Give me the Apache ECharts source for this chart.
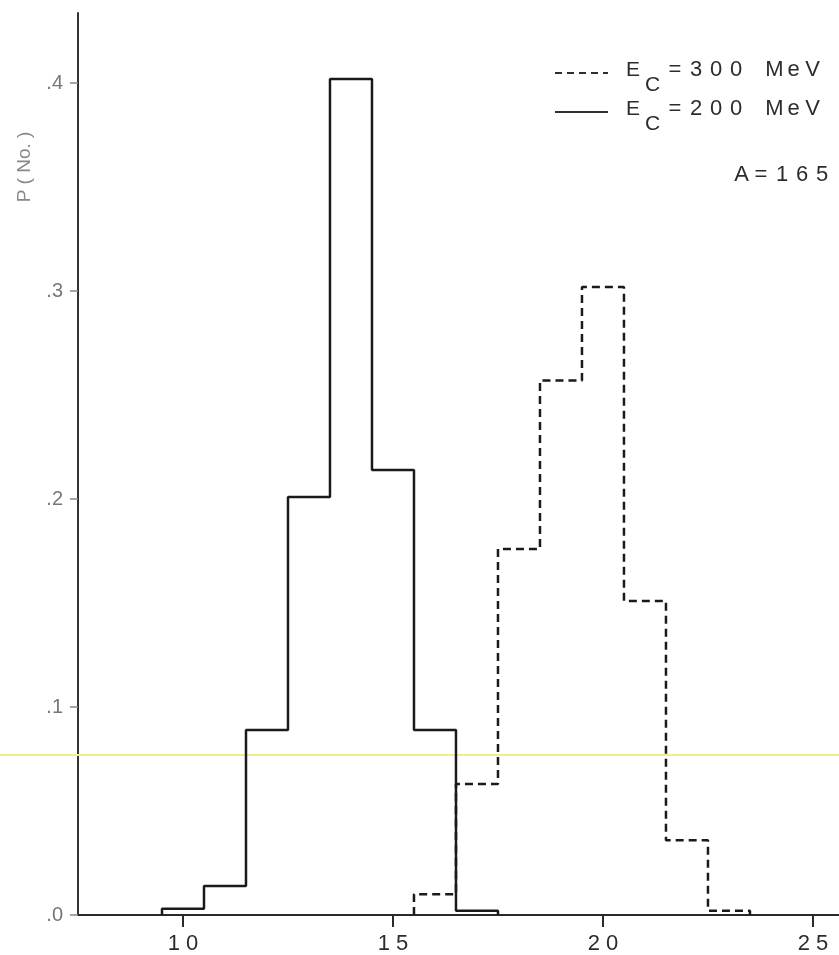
<!DOCTYPE html>
<html>
<head>
<meta charset="utf-8">
<script src="https://cdn.jsdelivr.net/npm/echarts@6/dist/echarts.min.js"></script>
<style>
  html, body { margin: 0; padding: 0; background: #fff; }
  #chart { width: 839px; height: 955px; }
</style>
</head>
<body>
<div id="chart"></div>
<script>
// Histogram bins: left edges and probabilities for each cutoff energy
const binEdges200 = [9.5, 10.5, 11.5, 12.5, 13.5, 14.5, 15.5, 16.5];
const prob200     = [0.003, 0.014, 0.089, 0.201, 0.402, 0.214, 0.089, 0.002];
const binEdges300 = [15.5, 16.5, 17.5, 18.5, 19.5, 20.5, 21.5, 22.5];
const prob300     = [0.010, 0.063, 0.176, 0.257, 0.302, 0.151, 0.036, 0.002];
const binWidth = 1;

const xTicks = [10, 15, 20, 25];
const yTicks = [0, 0.1, 0.2, 0.3, 0.4];

const legendValues = ['300', '200'];   // cutoff energies in MeV
const massNumber = '165';

// Turn bins into an outline path (step 'end': flat across each bin, then jump)
function outline(edges, vals) {
  const pts = [[edges[0], 0]];
  edges.forEach((e, i) => pts.push([e, vals[i]]));
  pts.push([edges[edges.length - 1] + binWidth, 0]);
  return pts;
}

const ink = '#1a1a1a';
const textInk = '#2c2c2c';
const font = 'Liberation Sans, Arial, sans-serif';
const chart = echarts.init(document.getElementById('chart'));

// Spaced-out typewriter style text: each character gets its own fixed-width cell
function spaced(str, cell) {
  return str.split('').map(ch => ch === ' ' ? '{sp|}' : '{' + cell + '|' + ch + '}').join('');
}
const cellStyle = { align: 'center', fontSize: 22, fontFamily: font, fill: textInk, lineHeight: 24 };
const richCells = {
  d:  Object.assign({ width: 20 }, cellStyle),
  m:  Object.assign({ width: 19 }, cellStyle),
  a:  Object.assign({ width: 17 }, cellStyle),
  eq: Object.assign({ width: 22 }, cellStyle),
  sp: { width: 19, lineHeight: 24 }
};

// Legend rows: key line, "E", subscript "C", "= value  MeV"
function legendRow(y, value, dashed) {
  return [
    {
      type: 'line',
      shape: { x1: 555, y1: y, x2: 608, y2: y },
      style: { stroke: '#2e2e2e', lineWidth: 2, lineDash: dashed ? [7, 5] : null }
    },
    {
      type: 'text', x: 626, y: y - 3,
      style: { text: 'E', fontSize: 21, fontFamily: font, fill: textInk, verticalAlign: 'middle' }
    },
    {
      type: 'text', x: 645, y: y + 12,
      style: { text: 'C', fontSize: 21, fontFamily: font, fill: textInk, verticalAlign: 'middle' }
    },
    {
      type: 'text', x: 664, y: y - 3,
      style: {
        text: '{eq|=}' + spaced(value, 'd') + '{sp|}{m|M}{m|e}{m|V}',
        rich: richCells, verticalAlign: 'middle'
      }
    }
  ];
}

chart.setOption({
  animation: false,
  backgroundColor: '#ffffff',
  grid: { left: 78, right: 0, top: 13, bottom: 40, containLabel: false, outerBoundsMode: 'none' },
  xAxis: {
    type: 'value',
    min: 7.5,
    max: 25.62,
    axisLine: { show: true, lineStyle: { color: '#2a2a2a', width: 2 } },
    axisTick: { show: true, customValues: xTicks, length: 12, lineStyle: { color: '#2a2a2a', width: 2 } },
    axisLabel: {
      customValues: xTicks,
      formatter: v => String(v).split('').join(' '),
      color: textInk, fontSize: 22, fontFamily: font, margin: 18
    },
    splitLine: { show: false }
  },
  yAxis: {
    type: 'value',
    min: 0,
    max: 0.4337,
    axisLine: { show: true, onZero: false, lineStyle: { color: '#333', width: 2 } },
    axisTick: { show: true, customValues: yTicks, length: 8, lineStyle: { color: '#888', width: 1.5 } },
    axisLabel: {
      customValues: yTicks,
      formatter: v => '.' + Math.round(v * 10),
      color: '#777', fontSize: 20, fontFamily: font, margin: 15
    },
    splitLine: { show: false }
  },
  series: [
    {
      name: 'E_C = 300 MeV',
      type: 'line',
      step: 'end',
      symbol: 'none',
      data: outline(binEdges300, prob300),
      lineStyle: { color: ink, width: 2.5, type: [8, 5] },
      z: 3
    },
    {
      name: 'E_C = 200 MeV',
      type: 'line',
      step: 'end',
      symbol: 'none',
      data: outline(binEdges200, prob200),
      lineStyle: { color: ink, width: 2.5 },
      z: 4
    }
  ],
  graphic: [
    {
      type: 'line',
      shape: { x1: 0, y1: 755, x2: 839, y2: 755 },
      style: { stroke: '#f4ee84', lineWidth: 2 },
      z: 1
    },
    ...legendRow(73, legendValues[0], true),
    ...legendRow(112, legendValues[1], false),
    {
      type: 'text',
      x: 733, y: 175,
      style: {
        text: '{a|A}{eq|=}' + spaced(massNumber, 'd'),
        rich: richCells, verticalAlign: 'middle'
      }
    },
    {
      type: 'text',
      x: 25, y: 167,
      rotation: Math.PI / 2,
      style: {
        text: 'P ( No. )', fontSize: 19, fontFamily: font, fill: '#888',
        align: 'center', verticalAlign: 'middle'
      }
    }
  ]
});
</script>
</body>
</html>
